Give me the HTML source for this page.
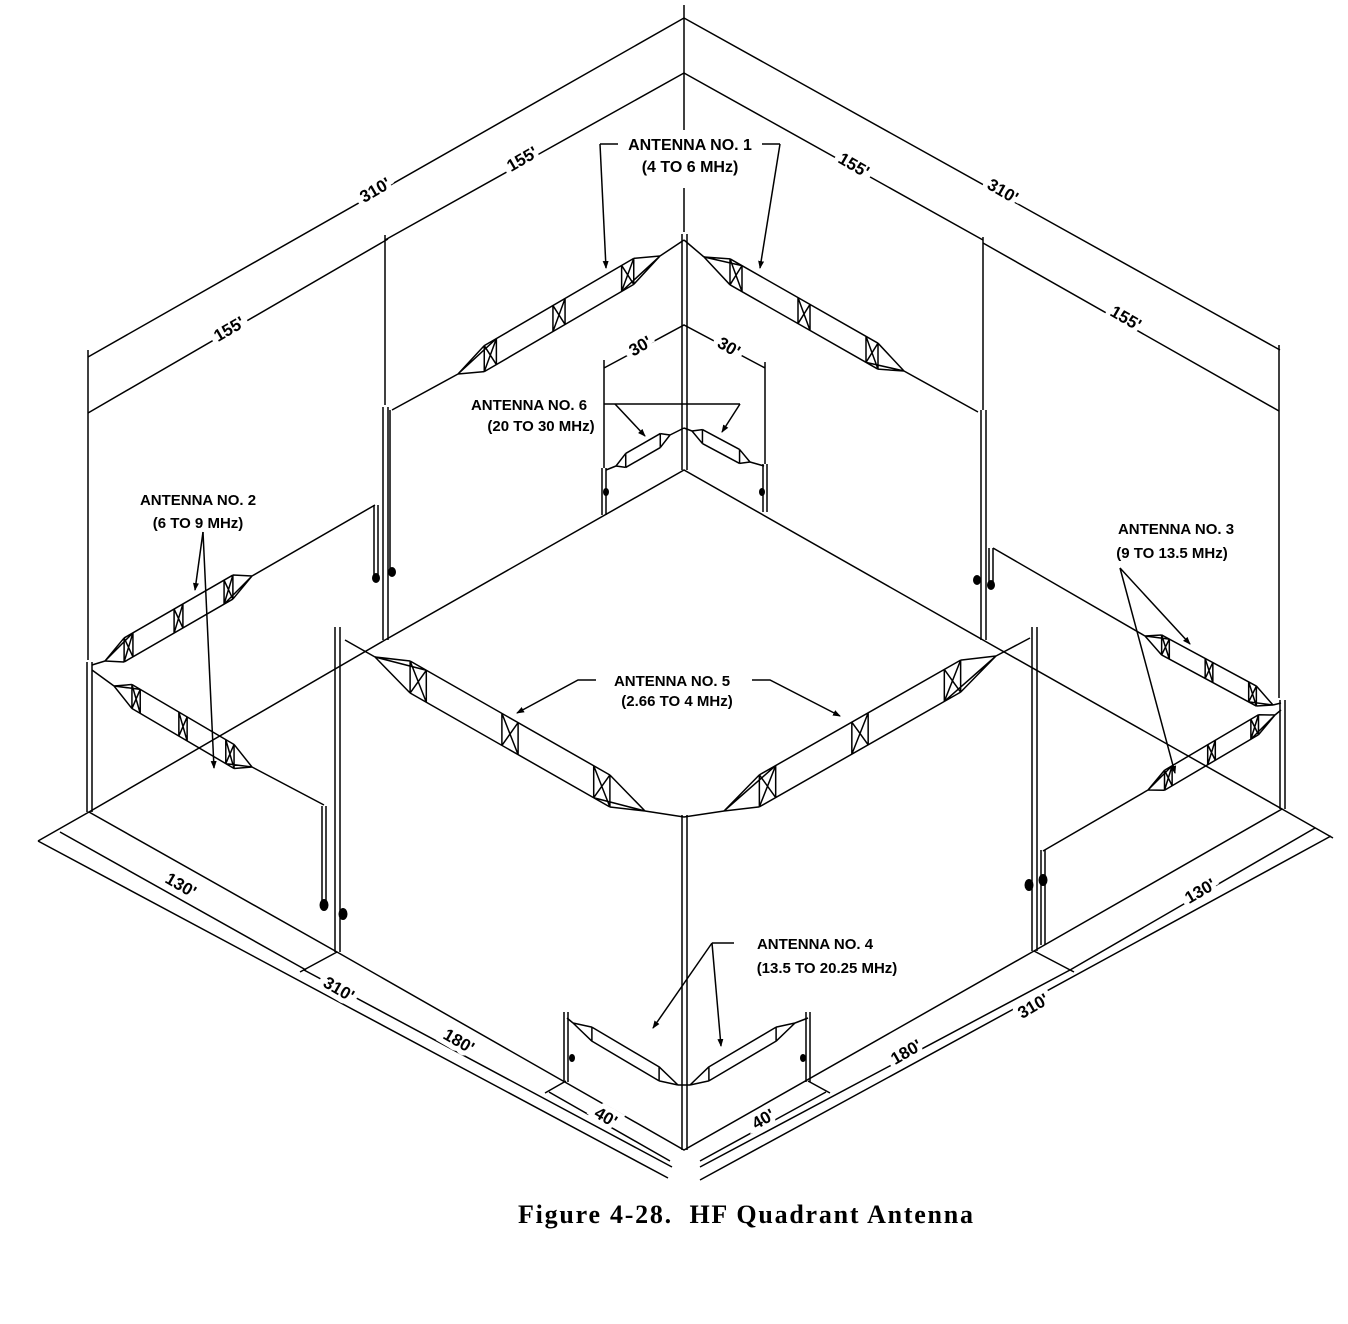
<!DOCTYPE html>
<html><head><meta charset="utf-8">
<style>
html,body{margin:0;padding:0;background:#fff;}
svg{display:block;}
.l{stroke:#000;stroke-width:1.5;fill:none;}
.t{font-family:"Liberation Sans",sans-serif;font-weight:bold;font-size:15px;fill:#000;}
.d{font-family:"Liberation Sans",sans-serif;font-weight:bold;font-size:17px;fill:#000;stroke:#fff;stroke-width:10px;paint-order:stroke;}
</style></head>
<body>
<svg width="1348" height="1324" viewBox="0 0 1348 1324" xmlns="http://www.w3.org/2000/svg">
<defs>
<marker id="ar" markerWidth="8" markerHeight="8" refX="7" refY="4" orient="auto" markerUnits="userSpaceOnUse">
<path d="M0,1 L8,4 L0,7 Z" fill="#000"/>
</marker>
<g id="beam" fill="none" stroke="#000">
<path vector-effect="non-scaling-stroke" stroke-width="1.5" d="M0,0 L13,-1 M0,0 L13,1 M0,0 L19,-1 M100,0 L87,-1 M100,0 L87,1 M100,0 L81,1 M13,-1 L87,-1 M13,1 L87,1 M13,-1 L13,1 M19,-1 L19,1 M13,-1 L19,1 M13,1 L19,-1 M47,-1 L47,1 M53,-1 L53,1 M47,-1 L53,1 M47,1 L53,-1 M81,-1 L81,1 M87,-1 L87,1 M81,-1 L87,1 M81,1 L87,-1"/>
</g>
<g id="sbeam" fill="none" stroke="#000">
<path vector-effect="non-scaling-stroke" stroke-width="1.5" d="M0,0 L18,-1 M0,0 L18,1 M100,0 L82,-1 M100,0 L82,1 M18,-1 L82,-1 M18,1 L82,1 M18,-1 L18,1 M82,-1 L82,1"/>
</g>
</defs>

<g class="l">
<path d="M684,470 L385,640 L89,812 L337,952 L684,1150 L1034,951 L1282,809 L983,640 Z"/>
</g>

<g class="l" stroke-width="1.2">
<path d="M682,234 V470 M687,234 V470"/>
<path d="M682,815 V1150 M687,815 V1150"/>
<path d="M383,407 V640 M388,407 V640"/>
<path d="M981,410 V640 M986,410 V640"/>
<path d="M87,662 V812 M92,662 V812"/>
<path d="M1280,700 V809 M1285,700 V809"/>
<path d="M335,627 V952 M340,627 V952"/>
<path d="M1032,627 V951 M1037,627 V951"/>
<path d="M602,468 V515 M606,468 V515"/>
<path d="M763,464 V512 M767,464 V512"/>
<path d="M564,1012 V1082 M568,1012 V1082"/>
<path d="M806,1012 V1082 M810,1012 V1082"/>
<path d="M374,505 V580 M378,505 V580 M390,410 V575"/>
<path d="M989,548 V588 M993,548 V588"/>
<path d="M322,806 V906 M326,806 V906"/>
<path d="M1041,850 V945 M1045,850 V945"/>
</g>
<g fill="#000">
<ellipse cx="376" cy="578" rx="4" ry="5"/><ellipse cx="392" cy="572" rx="4" ry="5"/>
<ellipse cx="977" cy="580" rx="4" ry="5"/><ellipse cx="991" cy="585" rx="4" ry="5"/>
<ellipse cx="324" cy="905" rx="4.5" ry="6"/><ellipse cx="343" cy="914" rx="4.5" ry="6"/>
<ellipse cx="1029" cy="885" rx="4.5" ry="6"/><ellipse cx="1043" cy="880" rx="4.5" ry="6"/>
<ellipse cx="606" cy="492" rx="3" ry="4"/><ellipse cx="762" cy="492" rx="3" ry="4"/>
<ellipse cx="572" cy="1058" rx="3" ry="4"/><ellipse cx="803" cy="1058" rx="3" ry="4"/>
</g>

<g class="l">
<path d="M684,240 L660,256 M458,374 L392,410 M684,240 L704,257 M904,371 L978,412"/>
<path d="M92,665 L105,661 M252,576 L375,505 M92,670 L114,686 M252,767 L324,805"/>
<path d="M345,640 L375,657 M645,811 L684,817 L724,811 M996,656 L1030,638"/>
<path d="M993,548 L1145,636 M1273,705 L1281,703 M1281,710 L1275,715 M1148,790 L1043,851"/>
<path d="M684,428 L670,435 M616,466 L606,470 M684,428 L692,431 M750,462 L764,466"/>
<path d="M684,1085 L678,1085 M573,1023 L567,1018 M684,1085 L690,1085 M795,1023 L808,1018"/>
</g>

<use href="#beam" transform="matrix(2.02,-1.18,0,13,458,374)"/>
<use href="#beam" transform="matrix(2.00,1.14,0,13,704,257)"/>
<use href="#beam" transform="matrix(1.47,-0.85,0,12,105,661)"/>
<use href="#beam" transform="matrix(1.38,0.81,0,12,114,686)"/>
<use href="#beam" transform="matrix(2.70,1.54,0,16,375,657)"/>
<use href="#beam" transform="matrix(2.72,-1.55,0,16,724,811)"/>
<use href="#beam" transform="matrix(1.28,0.69,0,10,1145,636)"/>
<use href="#beam" transform="matrix(1.27,-0.75,0,10,1148,790)"/>
<use href="#sbeam" transform="matrix(0.54,-0.31,0,7,616,466)"/>
<use href="#sbeam" transform="matrix(0.58,0.31,0,7,692,431)"/>
<use href="#sbeam" transform="matrix(1.05,0.62,0,7,573,1023)"/>
<use href="#sbeam" transform="matrix(1.05,-0.62,0,7,690,1085)"/>

<g class="l" stroke-width="1.2">
<path d="M684,5 V130 M684,188 V232"/>
<path d="M684,18 L88,357 M684,73 L385,240 M388,239 L88,413"/>
<path d="M684,18 L1280,350 M684,73 L983,240 M983,243 L1279,411"/>
<path d="M385,235 V405 M983,237 V410 M88,350 V660 M1279,345 V698"/>
<path d="M604,360 V468 M765,362 V464 M604,368 L684,325 L765,368"/>
<path d="M89,812 L38,841 M38,841 L668,1178 M60,832 L306,970 M337,952 L300,972 M304,970 L672,1167 M566,1081 L545,1093 M549,1092 L670,1161"/>
<path d="M1282,809 L1333,838 M1331,836 L700,1180 M1315,828 L1070,970 M1034,951 L1074,972 M1070,970 L700,1167 M808,1081 L830,1093 M826,1092 L700,1161"/>
</g>

<g class="l" stroke-width="1.3">
<path d="M618,144 H600"/><path d="M600,144 L606,268" marker-end="url(#ar)"/>
<path d="M762,144 H780"/><path d="M780,144 L760,268" marker-end="url(#ar)"/>
<path d="M604,404 H740"/>
<path d="M615,404 L645,436" marker-end="url(#ar)"/><path d="M740,404 L722,432" marker-end="url(#ar)"/>
<path d="M203,532 L195,590" marker-end="url(#ar)"/><path d="M203,532 L214,768" marker-end="url(#ar)"/>
<path d="M1120,568 L1190,644" marker-end="url(#ar)"/><path d="M1120,568 L1175,773" marker-end="url(#ar)"/>
<path d="M596,680 H578 L517,713" marker-end="url(#ar)"/><path d="M752,680 H770 L840,716" marker-end="url(#ar)"/>
<path d="M734,943 H712"/><path d="M712,943 L653,1028" marker-end="url(#ar)"/><path d="M712,943 L721,1046" marker-end="url(#ar)"/>
</g>

<text class="d" transform="translate(378,195) rotate(-30)" text-anchor="middle">310'</text>
<text class="d" transform="translate(525,164) rotate(-30)" text-anchor="middle">155'</text>
<text class="d" transform="translate(232,334) rotate(-30)" text-anchor="middle">155'</text>
<text class="d" transform="translate(851,170) rotate(30)" text-anchor="middle">155'</text>
<text class="d" transform="translate(1000,196) rotate(30)" text-anchor="middle">310'</text>
<text class="d" transform="translate(1123,323) rotate(30)" text-anchor="middle">155'</text>
<text class="d" transform="translate(643,351) rotate(-30)" text-anchor="middle">30'</text>
<text class="d" transform="translate(726,352) rotate(30)" text-anchor="middle">30'</text>
<text class="d" transform="translate(178,890) rotate(30)" text-anchor="middle">130'</text>
<text class="d" transform="translate(336,994) rotate(30)" text-anchor="middle">310'</text>
<text class="d" transform="translate(456,1046) rotate(30)" text-anchor="middle">180'</text>
<text class="d" transform="translate(603,1122) rotate(30)" text-anchor="middle">40'</text>
<text class="d" transform="translate(1203,896) rotate(-30)" text-anchor="middle">130'</text>
<text class="d" transform="translate(1036,1011) rotate(-30)" text-anchor="middle">310'</text>
<text class="d" transform="translate(909,1057) rotate(-30)" text-anchor="middle">180'</text>
<text class="d" transform="translate(766,1124) rotate(-30)" text-anchor="middle">40'</text>

<g class="t" text-anchor="middle">
<text x="690" y="150" font-size="16">ANTENNA NO. 1</text><text x="690" y="172" font-size="16">(4 TO 6 MHz)</text>
<text x="529" y="410">ANTENNA NO. 6</text><text x="541" y="431">(20 TO 30 MHz)</text>
<text x="198" y="505">ANTENNA NO. 2</text><text x="198" y="528">(6 TO 9 MHz)</text>
<text x="1176" y="534">ANTENNA NO. 3</text><text x="1172" y="558">(9 TO 13.5 MHz)</text>
<text x="672" y="686">ANTENNA NO. 5</text><text x="677" y="706">(2.66 TO 4 MHz)</text>
<text x="815" y="949">ANTENNA NO. 4</text><text x="827" y="973">(13.5 TO 20.25 MHz)</text>
</g>

<text x="518" y="1223" textLength="455" lengthAdjust="spacing" xml:space="preserve" font-family="'Liberation Serif',serif" font-weight="bold" font-size="26">Figure 4-28.  HF Quadrant Antenna</text>
</svg>
</body></html>
